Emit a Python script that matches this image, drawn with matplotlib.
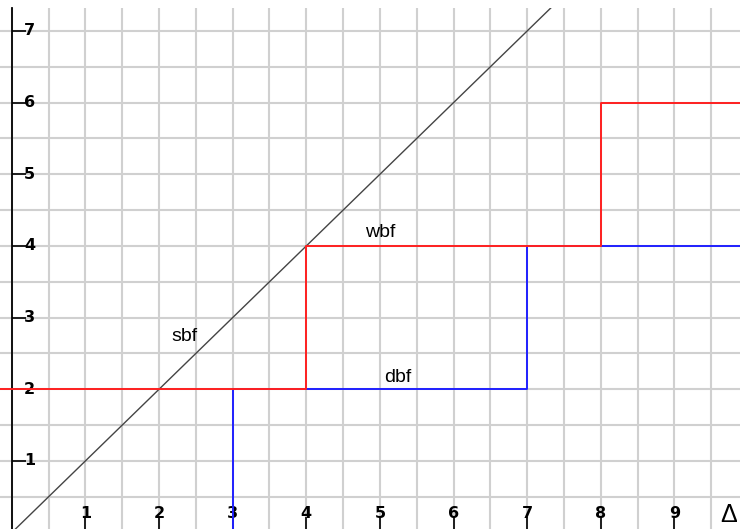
import numpy as np
import matplotlib
matplotlib.use('Agg')
import matplotlib.pyplot as plt

# View window
xMin, xMax = -0.16, 9.89
yMin, yMax = 0.05, 7.32

# Step functions (x breakpoints, y values)
wbfX = [xMin, 4, 4, 8, 8, xMax]
wbfY = [2, 2, 4, 4, 6, 6]
dbfX = [3, 3, 7, 7, xMax]
dbfY = [yMin, 2, 2, 4, 4]
sbfX = [xMin, xMax]
sbfY = [xMin, xMax]

xTicks = [1, 2, 3, 4, 5, 6, 7, 8, 9]
yTicks = [1, 2, 3, 4, 5, 6, 7]

labels = ['sbf', 'wbf', 'dbf']
labelX = [2.35, 5.01, 5.24]
labelY = [2.73, 4.19, 2.17]

fig = plt.figure(figsize=(7.4, 5.29), dpi=100)
ax = fig.add_axes([0, 0, 1, 1 - 8 / 529])
ax.set_xlim(xMin, xMax)
ax.set_ylim(yMin, yMax)

# Grid every 0.5
ax.set_xticks(np.arange(0, 10, 0.5), minor=True)
ax.set_yticks(np.arange(0.5, 7.5, 0.5), minor=True)
ax.set_xticks(xTicks)
ax.set_yticks(yTicks)
ax.grid(True, which='both', color='#d0d0d0', linewidth=1.5, zorder=0)
ax.tick_params(which='minor', length=0)
ax.set_axisbelow(True)

# Axes look
for s in ['top', 'right', 'bottom']:
    ax.spines[s].set_visible(False)
ax.spines['left'].set_position(('data', 0))
ax.spines['left'].set_linewidth(1.3)
ax.tick_params(axis='y', which='major', direction='in', length=10,
               width=1.2, labelleft=False)
ax.tick_params(axis='x', which='major', direction='in', length=9,
               width=1.2, labelbottom=False)

# Tick labels drawn as text
for t in yTicks:
    ax.text(0.165, t, str(t), ha='left', va='center', fontsize=11.5,
            fontweight='bold', color='black')
for t in xTicks:
    ax.text(t, 0.27, str(t), ha='center', va='center', fontsize=11.5,
            fontweight='bold', color='black')

ax.plot(sbfX, sbfY, color='#444444', linewidth=1.0, zorder=3)
ax.plot(dbfX, dbfY, color='#2020ff', linewidth=1.4, zorder=3)
ax.plot(wbfX, wbfY, color='#ff2020', linewidth=1.4, zorder=4)

for name, lx, ly in zip(labels, labelX, labelY):
    ax.text(lx, ly, name, ha='center', va='center', fontsize=14,
            family='Liberation Sans', color='black')

ax.text(9.73, 0.24, 'Δ', ha='center', va='center', fontsize=18,
        family='Liberation Sans', color='black')

fig.savefig('out.png', dpi=100)
